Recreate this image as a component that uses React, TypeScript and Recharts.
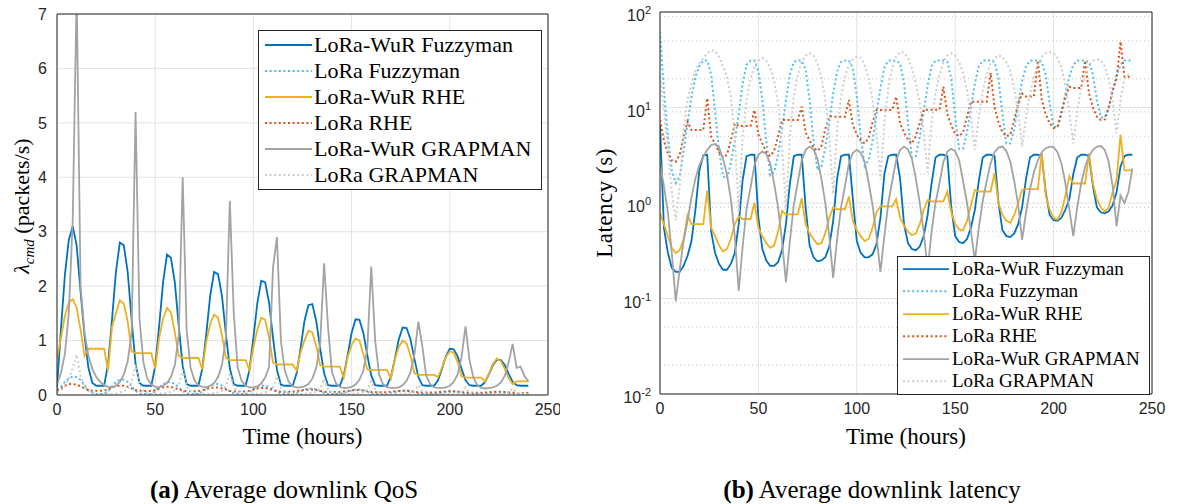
import {
  LineChart, Line, XAxis, YAxis, CartesianGrid, Legend,
} from 'recharts'

const SERIF = '"Liberation Serif", "Times New Roman", serif'
const SANS  = '"Liberation Sans", Arial, sans-serif'
const AXIS  = '#262626'
const GRID  = '#e3e3e3'

// time grid, every 2 hours
const HOURS = Array.from({ length: 121 }, (_, i) => i * 2)
const X_TICKS   = [0, 50, 100, 150, 200, 250]
const QOS_TICKS = [0, 1, 2, 3, 4, 5, 6, 7]
const LAT_TICKS = [0.01, 0.1, 1, 10, 100]
const LAT_MINOR = [
  0.02, 0.03, 0.04, 0.05, 0.06, 0.07, 0.08, 0.09,
  0.2, 0.3, 0.4, 0.5, 0.6, 0.7, 0.8, 0.9,
  2, 3, 4, 5, 6, 7, 8, 9,
  20, 30, 40, 50, 60, 70, 80, 90,
]

// ---- (a) downlink QoS, packets/s ----
const Q_WUR_FUZZY = [
  0.15, 1.2, 2.2, 2.85, 3.1, 2.75, 1.9, 1.1, 0.5, 0.22, 0.17, 0.17,
  0.17, 0.57, 1.38, 2.26, 2.8, 2.75, 2.26, 1.38, 0.57, 0.22, 0.17, 0.17,
  0.17, 0.53, 1.26, 2.07, 2.58, 2.52, 2.07, 1.26, 0.53, 0.2, 0.17, 0.17,
  0.17, 0.49, 1.12, 1.82, 2.26, 2.22, 1.82, 1.12, 0.49, 0.2, 0.17, 0.17,
  0.17, 0.46, 1.05, 1.69, 2.1, 2.07, 1.69, 1.05, 0.46, 0.19, 0.17, 0.17,
  0.17, 0.4, 0.85, 1.36, 1.65, 1.67, 1.36, 0.85, 0.4, 0.18, 0.17, 0.17,
  0.17, 0.36, 0.73, 1.14, 1.39, 1.38, 1.14, 0.73, 0.36, 0.18, 0.17, 0.17,
  0.17, 0.33, 0.66, 1.02, 1.24, 1.23, 1.02, 0.66, 0.33, 0.18, 0.17, 0.17,
  0.17, 0.27, 0.48, 0.71, 0.85, 0.84, 0.71, 0.48, 0.27, 0.18, 0.17, 0.17,
  0.17, 0.24, 0.39, 0.55, 0.65, 0.64, 0.55, 0.39, 0.24, 0.18, 0.17, 0.17,
  0.17,
]
const Q_LORA_FUZZY = [
  0.1, 0.15, 0.24, 0.3, 0.34, 0.33, 0.28, 0.18, 0.09, 0.04, 0.02, 0.02,
  0.02, 0.07, 0.16, 0.24, 0.28, 0.28, 0.24, 0.16, 0.07, 0.03, 0.02, 0.02,
  0.02, 0.07, 0.14, 0.2, 0.24, 0.24, 0.2, 0.14, 0.07, 0.03, 0.02, 0.02,
  0.02, 0.06, 0.12, 0.17, 0.2, 0.2, 0.17, 0.12, 0.06, 0.03, 0.02, 0.02,
  0.02, 0.05, 0.1, 0.15, 0.17, 0.17, 0.15, 0.1, 0.05, 0.03, 0.02, 0.02,
  0.02, 0.04, 0.07, 0.1, 0.12, 0.12, 0.1, 0.07, 0.04, 0.02, 0.02, 0.02,
  0.02, 0.035, 0.06, 0.085, 0.1, 0.1, 0.085, 0.06, 0.035, 0.02, 0.02, 0.02,
  0.02, 0.03, 0.05, 0.07, 0.08, 0.08, 0.07, 0.05, 0.03, 0.02, 0.02, 0.02,
  0.02, 0.03, 0.04, 0.055, 0.06, 0.06, 0.055, 0.04, 0.03, 0.02, 0.02, 0.02,
  0.02, 0.025, 0.035, 0.045, 0.05, 0.05, 0.045, 0.035, 0.025, 0.02, 0.02, 0.02,
  0.02,
]
const Q_WUR_RHE = [
  0.67, 1.05, 1.45, 1.7, 1.76, 1.6, 1.2, 0.72, 0.85, 0.85, 0.85, 0.85,
  0.85, 0.45, 1.25, 1.5, 1.74, 1.68, 1.35, 0.8, 0.77, 0.77, 0.77, 0.77,
  0.77, 0.48, 1.05, 1.4, 1.6, 1.52, 1.15, 0.72, 0.68, 0.68, 0.68, 0.68,
  0.68, 0.47, 0.98, 1.3, 1.48, 1.42, 1.1, 0.68, 0.64, 0.64, 0.64, 0.64,
  0.64, 0.46, 0.88, 1.2, 1.42, 1.38, 1.05, 0.6, 0.56, 0.56, 0.56, 0.56,
  0.56, 0.45, 0.78, 1.0, 1.18, 1.15, 0.9, 0.55, 0.52, 0.52, 0.52, 0.52,
  0.52, 0.32, 0.7, 0.92, 1.04, 1.0, 0.75, 0.47, 0.46, 0.46, 0.46, 0.46,
  0.46, 0.3, 0.65, 0.88, 1.0, 0.95, 0.72, 0.4, 0.37, 0.37, 0.37, 0.37,
  0.37, 0.33, 0.5, 0.7, 0.8, 0.78, 0.6, 0.34, 0.32, 0.32, 0.32, 0.32,
  0.32, 0.25, 0.4, 0.57, 0.67, 0.62, 0.48, 0.3, 0.2, 0.25, 0.25, 0.25,
  0.25,
]
const Q_LORA_RHE = [
  0.08, 0.12, 0.17, 0.2, 0.2, 0.19, 0.16, 0.12, 0.09, 0.08, 0.08, 0.08,
  0.08, 0.1, 0.14, 0.16, 0.17, 0.17, 0.15, 0.12, 0.09, 0.08, 0.075, 0.075,
  0.075, 0.09, 0.12, 0.14, 0.15, 0.15, 0.13, 0.1, 0.08, 0.07, 0.07, 0.07,
  0.07, 0.085, 0.11, 0.13, 0.14, 0.14, 0.12, 0.1, 0.075, 0.065, 0.065, 0.065,
  0.065, 0.08, 0.1, 0.12, 0.13, 0.13, 0.11, 0.09, 0.07, 0.06, 0.06, 0.06,
  0.06, 0.07, 0.085, 0.095, 0.1, 0.1, 0.09, 0.075, 0.06, 0.055, 0.055, 0.055,
  0.055, 0.065, 0.075, 0.085, 0.09, 0.09, 0.08, 0.07, 0.055, 0.05, 0.05, 0.05,
  0.05, 0.058, 0.068, 0.075, 0.08, 0.08, 0.072, 0.062, 0.05, 0.045, 0.045, 0.045,
  0.045, 0.052, 0.06, 0.067, 0.07, 0.07, 0.064, 0.055, 0.046, 0.042, 0.04, 0.04,
  0.04, 0.045, 0.052, 0.058, 0.06, 0.06, 0.055, 0.048, 0.042, 0.038, 0.036, 0.036,
  0.036,
]
const Q_WUR_GRAP = [
  0.2, 0.4, 0.75, 1.5, 3.2, 7.4, 2.0, 1.15, 0.72, 0.48, 0.33, 0.24,
  0.18, 0.15, 0.14, 0.17, 0.24, 0.38, 0.62, 1.15, 5.2, 1.4, 0.6, 0.3,
  0.19, 0.15, 0.14, 0.17, 0.22, 0.33, 0.55, 1.1, 4.0, 1.2, 0.5, 0.27,
  0.18, 0.15, 0.14, 0.17, 0.22, 0.33, 0.55, 1.05, 3.57, 1.5, 0.5, 0.26,
  0.17, 0.14, 0.14, 0.16, 0.21, 0.32, 0.52, 2.35, 2.9, 1.0, 0.45, 0.24,
  0.16, 0.14, 0.14, 0.16, 0.2, 0.3, 0.5, 0.95, 2.42, 1.25, 0.42, 0.22,
  0.15, 0.13, 0.13, 0.15, 0.19, 0.28, 0.45, 0.85, 2.36, 1.0, 0.38, 0.2,
  0.14, 0.13, 0.13, 0.14, 0.18, 0.26, 0.42, 0.75, 1.35, 0.9, 0.35, 0.2,
  0.14, 0.13, 0.13, 0.14, 0.17, 0.24, 0.38, 0.7, 1.26, 0.65, 0.32, 0.18,
  0.13, 0.12, 0.13, 0.14, 0.17, 0.23, 0.35, 0.6, 0.94, 0.5, 0.52, 0.35,
  0.25,
]
const Q_LORA_GRAP = [
  0.05, 0.08, 0.15, 0.3, 0.5, 0.74, 0.35, 0.15, 0.07, 0.04, 0.03, 0.02,
  0.02, 0.02, 0.02, 0.03, 0.05, 0.07, 0.11, 0.22, 0.55, 0.2, 0.08, 0.04,
  0.02, 0.02, 0.02, 0.03, 0.04, 0.06, 0.09, 0.18, 0.46, 0.16, 0.07, 0.035,
  0.02, 0.02, 0.02, 0.025, 0.035, 0.05, 0.08, 0.16, 0.4, 0.14, 0.06, 0.03,
  0.02, 0.02, 0.02, 0.025, 0.03, 0.045, 0.07, 0.14, 0.34, 0.12, 0.05, 0.03,
  0.02, 0.02, 0.02, 0.02, 0.03, 0.04, 0.06, 0.12, 0.3, 0.1, 0.045, 0.025,
  0.02, 0.02, 0.02, 0.02, 0.025, 0.035, 0.05, 0.1, 0.25, 0.09, 0.04, 0.025,
  0.02, 0.02, 0.02, 0.02, 0.022, 0.03, 0.04, 0.075, 0.18, 0.065, 0.03, 0.02,
  0.02, 0.02, 0.02, 0.02, 0.02, 0.025, 0.035, 0.06, 0.14, 0.05, 0.025, 0.02,
  0.02, 0.02, 0.02, 0.02, 0.02, 0.022, 0.03, 0.05, 0.12, 0.045, 0.025, 0.02,
  0.02,
]

// ---- (b) downlink latency, seconds ----
const L_WUR_FUZZY = [
  6.6, 0.55, 0.3, 0.21, 0.19, 0.19, 0.22, 0.28, 0.4, 0.85, 2.2, 3.15,
  3.2, 0.5, 0.3, 0.23, 0.2, 0.2, 0.23, 0.3, 0.6, 1.75, 3.1, 3.2,
  3.2, 0.7, 0.33, 0.25, 0.22, 0.22, 0.24, 0.32, 0.6, 1.6, 3.1, 3.2,
  3.2, 0.9, 0.36, 0.27, 0.245, 0.25, 0.27, 0.35, 0.65, 1.8, 3.1, 3.2,
  3.2, 1.1, 0.4, 0.3, 0.27, 0.27, 0.29, 0.37, 0.7, 2.0, 3.1, 3.2,
  3.2, 1.8, 0.6, 0.38, 0.33, 0.32, 0.35, 0.45, 0.75, 1.6, 3.0, 3.2,
  3.2, 3.1, 0.9, 0.45, 0.39, 0.38, 0.42, 0.55, 0.85, 1.7, 3.0, 3.2,
  3.2, 3.1, 1.0, 0.52, 0.45, 0.44, 0.48, 0.6, 0.9, 1.8, 3.0, 3.2,
  3.2, 3.1, 1.3, 0.75, 0.66, 0.65, 0.7, 0.85, 1.1, 2.0, 3.0, 3.2,
  3.2, 3.1, 1.5, 0.9, 0.8, 0.78, 0.82, 0.95, 1.3, 2.4, 3.1, 3.2,
  3.2,
]
const L_LORA_FUZZY = [
  62, 15, 5, 2.2, 1.62, 1.9, 3.5, 6.8, 13, 21, 27, 31,
  31, 22, 9.0, 3.5, 1.9, 1.8, 2.6, 4.5, 8.5, 18, 28, 31,
  31, 24, 12, 4.5, 1.95, 2.1, 3.2, 6.0, 12, 22, 30, 31,
  31, 25, 12, 4.5, 2.2, 2.4, 3.8, 7, 14, 24, 30, 31,
  31, 26, 13, 5, 2.45, 2.8, 4.5, 8.5, 16, 26, 31, 31,
  31, 29, 18, 7, 3.0, 3.1, 5, 9, 17, 27, 31, 31,
  31, 30, 20, 8, 3.7, 3.7, 5.5, 10, 18, 27, 31, 31,
  31, 30, 20, 8.5, 4.2, 4.2, 6, 11, 19, 27, 31, 31,
  31, 30, 22, 11, 6.3, 6.2, 8.5, 14, 21, 28, 31, 31,
  31, 30, 22, 12, 7.9, 7.8, 10, 15, 22, 28, 31, 31,
  31,
]
const L_WUR_RHE = [
  0.78, 0.6, 0.45, 0.34, 0.3, 0.32, 0.42, 0.75, 0.6, 0.6, 0.6, 0.6,
  1.35, 0.55, 0.45, 0.36, 0.31, 0.33, 0.42, 0.6, 0.72, 0.68, 0.68, 0.68,
  1.0, 0.55, 0.45, 0.38, 0.34, 0.36, 0.5, 0.83, 0.76, 0.76, 0.76, 0.76,
  1.12, 0.6, 0.48, 0.42, 0.37, 0.38, 0.48, 0.7, 0.9, 0.86, 0.86, 0.86,
  1.17, 0.65, 0.52, 0.45, 0.4, 0.42, 0.55, 0.8, 0.92, 0.92, 0.92, 0.92,
  1.1, 0.7, 0.58, 0.5, 0.46, 0.48, 0.6, 0.85, 1.07, 1.04, 1.04, 1.04,
  1.04, 1.32, 0.8, 0.6, 0.53, 0.52, 0.65, 0.95, 1.37, 1.32, 1.32, 1.32,
  1.32, 2.05, 1.0, 0.75, 0.65, 0.62, 0.75, 1.0, 1.37, 1.4, 1.4, 1.4,
  1.4, 3.4, 1.2, 0.85, 0.7, 0.67, 0.8, 1.2, 1.9, 1.6, 1.6, 1.6,
  1.6, 3.3, 1.6, 1.1, 0.9, 0.81, 0.9, 1.3, 1.75, 5.2, 2.2, 2.2,
  2.2,
]
const L_LORA_RHE = [
  7.4, 4.5, 3.3, 2.8, 2.7, 3.2, 5.0, 7.1, 5.8, 5.8, 5.8, 5.8,
  12.5, 4.9, 4.2, 3.4, 3.0, 3.2, 4.5, 6.8, 6.4, 6.4, 6.4, 6.4,
  9.4, 5.2, 4.2, 3.4, 3.1, 3.5, 5.0, 7.4, 7.4, 7.4, 7.4, 7.4,
  10.2, 5.5, 4.5, 3.8, 3.5, 3.9, 6.0, 8.1, 8.0, 8.0, 8.0, 8.0,
  12, 6.5, 5.2, 4.5, 4.2, 4.8, 7, 9.4, 9.4, 9.4, 9.4, 9.4,
  13, 6.8, 5.5, 4.6, 4.2, 5.0, 7.0, 9.5, 9.5, 9.5, 9.5, 9.5,
  16.5, 8.5, 6.5, 5.3, 5.0, 5.5, 8.0, 11.5, 11.5, 11.5, 11.5, 11.5,
  23, 10, 7, 5.5, 5.0, 5.2, 7.5, 11, 14, 13, 13, 13,
  31, 12, 8.5, 6.8, 6.1, 6.3, 9, 13, 16.5, 16, 16, 16,
  31, 14, 10, 8, 7.4, 7.5, 10, 15, 20, 49, 21, 21,
  21,
]
const L_WUR_GRAP = [
  2.6, 1.5, 0.8, 0.3, 0.093, 0.2, 0.4, 0.65, 1.15, 1.8, 2.5, 3.05,
  3.6, 4.05, 4.15, 3.8, 2.9, 2.0, 1.1, 0.45, 0.12, 0.35, 0.87, 1.45,
  2.5, 3.2, 3.47, 3.25, 2.6, 1.6, 0.9, 0.4, 0.148, 0.4, 0.95, 1.65,
  2.8, 3.6, 3.9, 3.65, 2.9, 1.8, 1.0, 0.45, 0.164, 0.42, 0.9, 1.5,
  2.6, 3.35, 3.6, 3.35, 2.7, 1.65, 0.95, 0.45, 0.19, 0.45, 1.0, 1.7,
  2.8, 3.6, 3.9, 3.65, 2.9, 1.8, 1.0, 0.5, 0.2, 0.5, 1.0, 1.6,
  2.7, 3.45, 3.7, 3.5, 2.8, 1.7, 1.0, 0.5, 0.25, 0.55, 1.05, 1.7,
  2.6, 3.4, 3.8, 3.9, 3.5, 2.7, 1.7, 0.95, 0.41, 0.8, 1.4, 2.1,
  2.8, 3.4, 3.75, 3.9, 3.85, 3.4, 2.6, 1.6, 0.85, 0.45, 0.9, 1.6,
  2.4, 3.1, 3.6, 3.9, 3.95, 3.6, 2.7, 1.5, 0.57, 1.2, 1.0, 1.3,
  2.3,
]
const L_LORA_GRAP = [
  21, 9, 3.5, 1.3, 0.66, 1.5, 6, 12, 18, 24, 29, 33,
  37, 39.5, 39, 34, 27, 21, 13, 5, 0.8, 5, 12, 20,
  27, 31, 33, 31, 26, 19, 11, 4, 0.85, 5, 13, 22,
  30, 35, 37, 35, 29, 21, 12, 5, 1.25, 6, 13, 21,
  28, 32, 34, 33, 28, 20, 12, 5.5, 1.75, 7, 16, 26,
  34, 38, 37.5, 33, 26, 18, 11, 5.5, 2.1, 7, 14, 22,
  30, 35, 37, 35, 30, 23, 15, 8, 3.6, 8, 15, 22,
  29, 33, 35, 34, 30, 24, 16, 9, 3.9, 8, 14, 21,
  28, 34, 37, 38, 37, 33, 26, 17, 9, 4.2, 9, 16,
  23, 28, 31, 32, 31, 27, 20, 12, 5.4, 12, 20, 22,
  22,
]

const SERIES = [
  { key: 'wurFuzzy',  name: 'LoRa-WuR Fuzzyman', color: '#0072BD', dash: undefined },
  { key: 'loraFuzzy', name: 'LoRa Fuzzyman',     color: '#4DBEEE', dash: '2 2.6' },
  { key: 'wurRhe',    name: 'LoRa-WuR RHE',      color: '#EDB120', dash: undefined },
  { key: 'loraRhe',   name: 'LoRa RHE',          color: '#D95319', dash: '2 2.6' },
  { key: 'wurGrap',   name: 'LoRa-WuR GRAPMAN',  color: '#A3A3A3', dash: undefined },
  { key: 'loraGrap',  name: 'LoRa GRAPMAN',      color: '#CDCDCD', dash: '2 2.6' },
]

const qosRows = HOURS.map((t, i) => ({
  t,
  wurFuzzy: Q_WUR_FUZZY[i], loraFuzzy: Q_LORA_FUZZY[i],
  wurRhe: Q_WUR_RHE[i], loraRhe: Q_LORA_RHE[i],
  wurGrap: Q_WUR_GRAP[i], loraGrap: Q_LORA_GRAP[i],
}))

const latRows = HOURS.map((t, i) => ({
  t,
  wurFuzzy: L_WUR_FUZZY[i], loraFuzzy: L_LORA_FUZZY[i],
  wurRhe: L_WUR_RHE[i], loraRhe: L_LORA_RHE[i],
  wurGrap: L_WUR_GRAP[i], loraGrap: L_LORA_GRAP[i],
}))

const TICK_TEXT = { fontFamily: SANS, fontSize: 16, fill: AXIS }

function LegendBox({ width, height, rowH, font, padTop, sampleX, sampleW, textX }: any) {
  return (
    <div style={{
      width, height, boxSizing: 'border-box', border: `1px solid ${AXIS}`,
      background: '#fff', paddingTop: padTop,
    }}>
      {SERIES.map((s) => (
        <div key={s.key} style={{ position: 'relative', height: rowH }}>
          <svg width={sampleX + sampleW + 2} height={rowH} style={{ position: 'absolute', left: 0, top: 0 }}>
            <line x1={sampleX} x2={sampleX + sampleW} y1={rowH / 2} y2={rowH / 2}
              stroke={s.color} strokeWidth={s.dash ? 2 : 1.8} strokeDasharray={s.dash} />
          </svg>
          <span style={{
            position: 'absolute', left: textX, top: 0, lineHeight: `${rowH}px`,
            fontFamily: SERIF, fontSize: font, color: '#000', whiteSpace: 'nowrap',
          }}>{s.name}</span>
        </div>
      ))}
    </div>
  )
}

function PowTick({ x, y, payload }: any) {
  const exp = Math.round(Math.log10(payload.value))
  return (
    <text x={x} y={y + 9} textAnchor="end" fontFamily={SANS} fontSize={16} fill={AXIS}>
      10<tspan dy={-7} fontSize={11}>{exp}</tspan>
    </text>
  )
}

function seriesLines() {
  return SERIES.map((s) => (
    <Line
      key={s.key}
      xAxisId="x"
      yAxisId="y"
      type="linear"
      dataKey={s.key}
      name={s.name}
      stroke={s.color}
      strokeWidth={s.dash ? 2 : 1.8}
      strokeDasharray={s.dash}
      dot={false}
      isAnimationActive={false}
    />
  ))
}

// box edges with inward ticks (MATLAB style), drawn by mirrored axes
function boxAxes(domain: any, ticks: number[], log: boolean, minor?: number[]) {
  const scale = log ? 'log' : 'auto'
  return [
    <XAxis key="xt" xAxisId="top" orientation="top" mirror type="number" domain={[0, 250]}
      ticks={X_TICKS} height={1} allowDataOverflow tick={false} tickSize={5}
      tickLine={{ stroke: AXIS }} axisLine={{ stroke: AXIS }} />,
    <XAxis key="xb" xAxisId="bot" orientation="bottom" mirror type="number" domain={[0, 250]}
      ticks={X_TICKS} height={1} allowDataOverflow tick={false} tickSize={5}
      tickLine={{ stroke: AXIS }} axisLine={false} />,
    <YAxis key="yr" yAxisId="right" orientation="right" mirror type="number" scale={scale}
      domain={domain} ticks={ticks} width={1} allowDataOverflow tick={false} tickSize={5}
      tickLine={{ stroke: AXIS }} axisLine={{ stroke: AXIS }} />,
    <YAxis key="yl" yAxisId="left" orientation="left" mirror type="number" scale={scale}
      domain={domain} ticks={ticks} width={1} allowDataOverflow tick={false} tickSize={5}
      tickLine={{ stroke: AXIS }} axisLine={false} />,
    ...(minor ? [
      <YAxis key="yrm" yAxisId="rightMinor" orientation="right" mirror type="number" scale={scale}
        domain={domain} ticks={minor} width={1} allowDataOverflow tick={false} tickSize={3}
        tickLine={{ stroke: AXIS }} axisLine={false} />,
      <YAxis key="ylm" yAxisId="leftMinor" orientation="left" mirror type="number" scale={scale}
        domain={domain} ticks={minor} width={1} allowDataOverflow tick={false} tickSize={3}
        tickLine={{ stroke: AXIS }} axisLine={false} />,
    ] : []),
  ]
}

function QosChart() {
  return (
    <div style={{ position: 'absolute', left: 0, top: 0 }}>
      <LineChart width={560} height={460} data={qosRows}
        margin={{ top: 14, right: 12, bottom: 15, left: 0 }}>
        <CartesianGrid xAxisId="x" yAxisId="y" stroke={GRID} />
        <XAxis xAxisId="x" dataKey="t" type="number" domain={[0, 250]} ticks={X_TICKS}
          height={50} allowDataOverflow tickLine={false} axisLine={{ stroke: AXIS }}
          tick={TICK_TEXT} tickMargin={3}
          label={{ content: ({ viewBox }: any) => (
            <text x={viewBox.x + viewBox.width / 2} y={444} textAnchor="middle"
              fontFamily={SERIF} fontSize={23} fill="#000">Time (hours)</text>
          ) }} />
        <YAxis yAxisId="y" type="number" domain={[0, 7]} ticks={QOS_TICKS} width={57}
          allowDataOverflow tickLine={false} axisLine={{ stroke: AXIS }}
          tick={TICK_TEXT} tickMargin={4}
          label={{ content: () => (
            <text transform="translate(29, 206) rotate(-90)" textAnchor="middle"
              fontFamily={SERIF} fontSize={22} fill="#000">
              <tspan fontStyle="italic">λ</tspan>
              <tspan fontStyle="italic" fontSize={15} dy={5}>cmd</tspan>
              <tspan dy={-5}> (packets/s)</tspan>
            </text>
          ) }} />
        {boxAxes([0, 7], QOS_TICKS, false)}
        {seriesLines()}
        <Legend layout="vertical" align="center" verticalAlign="middle"
          wrapperStyle={{ left: 258, top: 30, width: 284, height: 160 }}
          content={() => (
            <LegendBox width={284} height={160} rowH={26} font={22} padTop={1}
              sampleX={6} sampleW={47} textX={55} />
          )} />
      </LineChart>
    </div>
  )
}

function LatencyChart() {
  return (
    <div style={{ position: 'absolute', left: 580, top: 0 }}>
      <LineChart width={590} height={460} data={latRows}
        margin={{ top: 12, right: 18, bottom: 16, left: 0 }}>
        <CartesianGrid xAxisId="x" yAxisId="y" vertical={false} horizontalValues={LAT_MINOR}
          stroke="#c4c4c4" strokeDasharray="1 3" />
        <CartesianGrid xAxisId="x" yAxisId="y" stroke={GRID} />
        <XAxis xAxisId="x" dataKey="t" type="number" domain={[0, 250]} ticks={X_TICKS}
          height={50} allowDataOverflow tickLine={false} axisLine={{ stroke: AXIS }}
          tick={TICK_TEXT} tickMargin={3}
          label={{ content: ({ viewBox }: any) => (
            <text x={viewBox.x + viewBox.width / 2} y={444} textAnchor="middle"
              fontFamily={SERIF} fontSize={23} fill="#000">Time (hours)</text>
          ) }} />
        <YAxis yAxisId="y" type="number" scale="log" domain={[0.01, 100]} ticks={LAT_TICKS}
          width={80} allowDataOverflow tickLine={false} axisLine={{ stroke: AXIS }}
          tick={<PowTick />} tickMargin={3}
          label={{ content: () => (
            <text transform="translate(32, 203) rotate(-90)" textAnchor="middle"
              fontFamily={SERIF} fontSize={23} fill="#000" letterSpacing={0.5}>
              Latency (s)
            </text>
          ) }} />
        {boxAxes([0.01, 100], LAT_TICKS, true, LAT_MINOR)}
        {seriesLines()}
        <Legend layout="vertical" align="center" verticalAlign="middle"
          wrapperStyle={{ left: 317, top: 256, width: 253, height: 139 }}
          content={() => (
            <LegendBox width={253} height={139} rowH={22.4} font={19} padTop={1}
              sampleX={5} sampleW={46} textX={54} />
          )} />
      </LineChart>
    </div>
  )
}

export default function App() {
  const caption = { position: 'absolute' as const, top: 474, width: 440, textAlign: 'center' as const,
    fontFamily: SERIF, fontSize: 25, lineHeight: '32px', color: '#000' }
  return (
    <div style={{ position: 'absolute', left: 0, top: 0, width: 1177, height: 504,
      background: '#fff', overflow: 'hidden' }}>
      <QosChart />
      <LatencyChart />
      <div style={{ ...caption, left: 284 - 220 }}><b>(a)</b> Average downlink QoS</div>
      <div style={{ ...caption, left: 872 - 220 }}><b>(b)</b> Average downlink latency</div>
    </div>
  )
}
